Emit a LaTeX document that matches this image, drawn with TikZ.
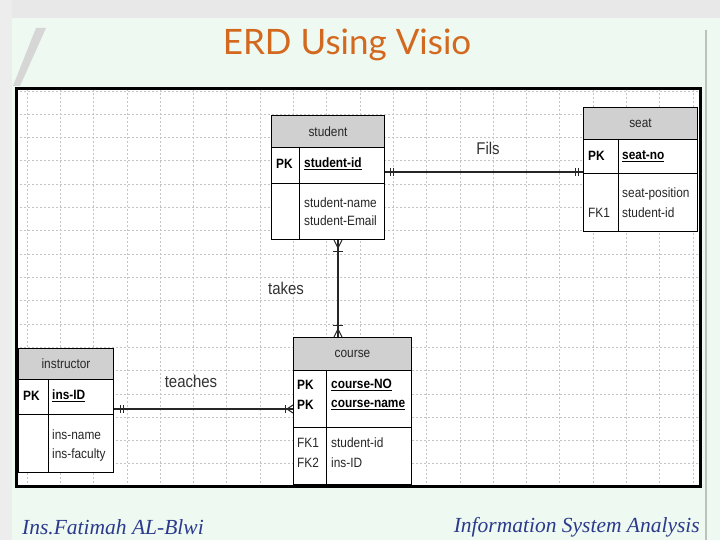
\documentclass[tikz,border=0pt]{standalone}
\usepackage{fontspec}
\setmainfont{Liberation Sans}
\newfontfamily\titlefont{Lato}
\newfontfamily\footfont{Liberation Serif}
\newfontfamily\boxfont[FakeStretch=0.88]{Liberation Sans}
\usetikzlibrary{calc}
\definecolor{mint}{HTML}{EEF9F1}
\definecolor{titleor}{HTML}{D2691E}
\definecolor{hdrgray}{HTML}{D0D0D0}
\definecolor{footblue}{HTML}{2B3A8C}
\definecolor{gridgray}{HTML}{C4C4C4}
\tikzset{
  hdr/.style={draw=black, line width=1pt, fill=hdrgray, anchor=north west, inner sep=0pt, font=\boxfont\fontsize{13.5}{15}\selectfont, text=black!85},
  rowbox/.style={draw=black, line width=1pt, fill=white, anchor=north west, inner sep=0pt},
  attr/.style={anchor=west, inner sep=0pt, font=\boxfont\fontsize{13.5}{15}\selectfont, text=black!85},
  keyattr/.style={anchor=west, inner sep=0pt, font=\boxfont\fontsize{13.5}{15}\selectfont\bfseries},
  rel/.style={draw=black!85, line width=1.6pt},
  relmark/.style={draw=black!85, line width=1pt},
  rellabel/.style={inner sep=0pt, font=\boxfont\fontsize{17}{19}\selectfont, text=black!80},
  gridline/.style={draw=gridgray, line width=0.6pt, dash pattern=on 2pt off 2pt},
  divider/.style={draw=black, line width=1pt},
  foottext/.style={inner sep=0pt, font=\footfont\itshape\fontsize{21.5}{23}\selectfont, text=footblue},
}
\begin{document}
\begin{tikzpicture}[x=1pt,y=-1pt]
\useasboundingbox (0,0) rectangle (720,540);
% background
\fill[mint] (0,0) rectangle (720,540);
\fill[black!9] (0,0) rectangle (720,18);
\fill[black!7] (0,0) rectangle (12,540);
\fill[black!16] (36,28) -- (46,28) -- (20,86) -- (13,86) -- cycle;
\draw[black!25, line width=2pt] (706,30) -- (706,540);
% title
\node[font=\titlefont\fontsize{35}{38}\selectfont, text=titleor, inner sep=0pt] (title) at (347,45) {ERD Using Visio};
% drawing frame
\fill[white] (16,89) rectangle (700,486);
\begin{scope}
\clip (17,90) rectangle (699,485);
\foreach \i in {0,...,20} \draw[gridline] (26.9+33.3*\i,89) -- (26.9+33.3*\i,486);
\foreach \i in {0,...,16} \draw[gridline] (16,90.9+23.3*\i) -- (700,90.9+23.3*\i);
\end{scope}
% student
\node[hdr, minimum width=113pt, minimum height=32pt] (studenth) at (271,115) {student};
\node[rowbox, minimum width=113pt, minimum height=36pt] (studentpk) at (271,147) {};
\node[rowbox, minimum width=113pt, minimum height=56pt] (studenta) at (271,183) {};
\draw[divider] ($(studentpk.north west)+(28,0)$) -- ($(studenta.south west)+(28,0)$);
\node[keyattr] (spk) at (276,164) {PK};
\node[keyattr] (sid) at (304,164) {\underline{student-id}};
\node[attr] (sname) at (304,203) {student-name};
\node[attr] (smail) at (304,221) {student-Email};
% seat
\node[hdr, minimum width=114pt, minimum height=32pt] (seath) at (583,107) {seat};
\node[rowbox, minimum width=114pt, minimum height=34pt] (seatpk) at (583,139) {};
\node[rowbox, minimum width=114pt, minimum height=58pt] (seata) at (583,173) {};
\draw[divider] ($(seatpk.north west)+(35,0)$) -- ($(seata.south west)+(35,0)$);
\node[keyattr] (tpk) at (588,156) {PK};
\node[keyattr] (tno) at (622,156) {\underline{seat-no}};
\node[attr] (tpos) at (622,194) {seat-position};
\node[attr] (tfk) at (588,213) {FK1};
\node[attr] (tsid) at (622,213) {student-id};
% instructor
\node[hdr, minimum width=95pt, minimum height=31pt] (insth) at (18,348) {instructor};
\node[rowbox, minimum width=95pt, minimum height=35pt] (instpk) at (18,379) {};
\node[rowbox, minimum width=95pt, minimum height=58pt] (insta) at (18,414) {};
\draw[divider] ($(instpk.north west)+(30,0)$) -- ($(insta.south west)+(30,0)$);
\node[keyattr] (ipk) at (23,396) {PK};
\node[keyattr] (iid) at (52,396) {\underline{ins-ID}};
\node[attr] (iname) at (52,435) {ins-name};
\node[attr] (ifac) at (52,455) {ins-faculty};
% course
\node[hdr, minimum width=118pt, minimum height=33pt] (courseh) at (293,337) {course};
\node[rowbox, minimum width=118pt, minimum height=57pt] (coursepk) at (293,370) {};
\node[rowbox, minimum width=118pt, minimum height=57pt] (coursea) at (293,427) {};
\draw[divider] ($(coursepk.north west)+(33,0)$) -- ($(coursea.south west)+(33,0)$);
\node[keyattr] (cpk1) at (297,385) {PK};
\node[keyattr] (cpk2) at (297,405) {PK};
\node[keyattr] (cno) at (331,385) {\underline{course-NO}};
\node[keyattr] (cname) at (331,405) {\underline{course-name}};
\node[attr] (cfk1) at (297,443) {FK1};
\node[attr] (csid) at (331,443) {student-id};
\node[attr] (cfk2) at (297,463) {FK2};
\node[attr] (ciid) at (331,463) {ins-ID};
% frame on top
\draw[line width=3pt, black] (16,89) rectangle (700,486);
% relationship rows
\coordinate (filsy) at (0,172);
\coordinate (takesx) at (338,0);
\coordinate (teachy) at (0,409);
% Fils
\coordinate (fA) at (studentpk.east |- filsy);
\coordinate (fB) at (seatpk.west |- filsy);
\draw[rel] (fA) -- (fB);
\draw[relmark] ($(fA)+(5,-4)$) -- ++(0,8);
\draw[relmark] ($(fA)+(8,-4)$) -- ++(0,8);
\draw[relmark] ($(fB)+(-5,-4)$) -- ++(0,8);
\draw[relmark] ($(fB)+(-8,-4)$) -- ++(0,8);
\node[rellabel] (filslbl) at (488,148) {Fils};
% takes
\coordinate (tA) at (studenta.south -| takesx);
\coordinate (tB) at (courseh.north -| takesx);
\draw[rel, line width=1.3pt] (tA) -- (tB);
\draw[relmark] ($(tA)+(-4,0)$) -- ($(tA)+(0,8)$) -- ($(tA)+(4,0)$);
\draw[relmark] ($(tA)+(-5,11)$) -- ++(10,0);
\draw[relmark] ($(tB)+(-4,0)$) -- ($(tB)+(0,-8)$) -- ($(tB)+(4,0)$);
\draw[relmark] ($(tB)+(-5,-12)$) -- ++(10,0);
\node[rellabel] (takeslbl) at (286,288) {takes};
% teaches
\coordinate (eA) at (instpk.east |- teachy);
\coordinate (eB) at (coursepk.west |- teachy);
\draw[rel, line width=1.3pt] (eA) -- (eB);
\draw[relmark] ($(eA)+(6,-4)$) -- ++(0,8);
\draw[relmark] ($(eA)+(9,-4)$) -- ++(0,8);
\draw[relmark] ($(eB)+(-8,-4)$) -- ++(0,8);
\draw[relmark] ($(eB)+(0,-4)$) -- ($(eB)+(-6,0)$) -- ($(eB)+(0,4)$);
\node[rellabel] (teacheslbl) at (191,381) {teaches};
% footer
\node[foottext, anchor=west] (foot1) at (22,527) {Ins.Fatimah AL-Blwi};
\node[foottext, anchor=east] (foot2) at (700,527) {Information System Analysis};
\end{tikzpicture}
\end{document}
